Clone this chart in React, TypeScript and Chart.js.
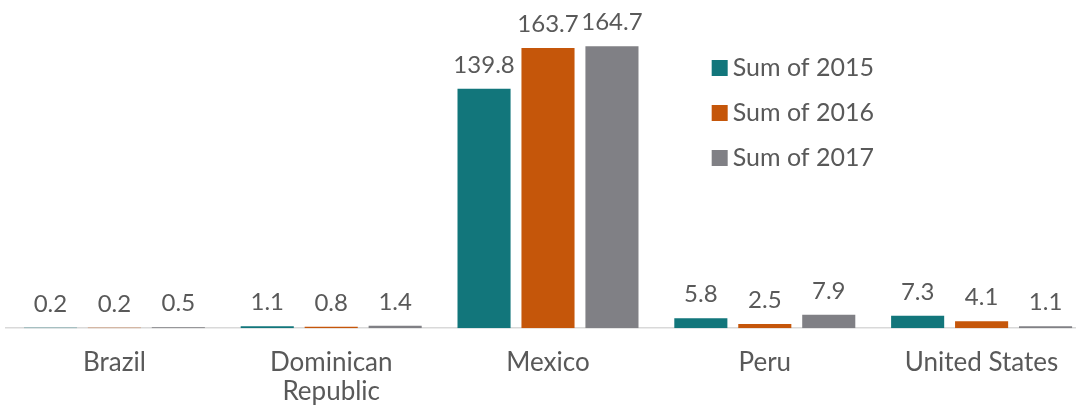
import React, { useEffect, useRef } from "react";
import { Chart, registerables } from "chart.js";

Chart.register(...registerables);

const categories: (string | string[])[] = ["Brazil", ["Dominican", "Republic"], "Mexico", "Peru", "United States"];
const seriesNames = ["Sum of 2015", "Sum of 2016", "Sum of 2017"];
const values2015 = [0.2, 1.1, 139.8, 5.8, 7.3];
const values2016 = [0.2, 0.8, 163.7, 2.5, 4.1];
const values2017 = [0.5, 1.4, 164.7, 7.9, 1.1];
const colors = ["#12767B", "#C5560A", "#808085"];

const FONT = "Lato, 'Noto Sans', sans-serif";
const TEXT = "#595959";

const labelPlugin = {
  id: "valueLabels",
  afterDatasetsDraw(chart: any) {
    const ctx = chart.ctx;
    ctx.save();
    ctx.font = `24px ${FONT}`;
    ctx.fillStyle = TEXT;
    ctx.textAlign = "center";
    ctx.textBaseline = "alphabetic";
    chart.data.datasets.forEach((ds: any, i: number) => {
      const meta = chart.getDatasetMeta(i);
      meta.data.forEach((bar: any, j: number) => {
        const v = ds.data[j];
        ctx.fillText(v.toFixed(1), bar.x, bar.y - 16);
      });
    });
    ctx.restore();
  },
};

const legendPlugin = {
  id: "insideLegend",
  afterDraw(chart: any) {
    const ctx = chart.ctx;
    const a = chart.chartArea;
    const x0 = a.left + (a.right - a.left) * 0.651;
    const y0 = a.top + 48;
    ctx.save();
    ctx.font = `25px ${FONT}`;
    ctx.textBaseline = "middle";
    ctx.textAlign = "left";
    seriesNames.forEach((name, i) => {
      const y = y0 + i * 45;
      ctx.fillStyle = colors[i];
      ctx.fillRect(x0, y - 8, 16, 16);
      ctx.fillStyle = TEXT;
      ctx.fillText(name, x0 + 21, y);
    });
    ctx.restore();
  },
};

export default function App() {
  const ref = useRef<HTMLCanvasElement>(null);
  useEffect(() => {
    if (!ref.current) return;
    const chart = new Chart(ref.current, {
      type: "bar",
      data: {
        labels: categories as any,
        datasets: [
          { label: seriesNames[0], data: values2015, backgroundColor: colors[0] },
          { label: seriesNames[1], data: values2016, backgroundColor: colors[1] },
          { label: seriesNames[2], data: values2017, backgroundColor: colors[2] },
        ],
      },
      options: {
        animation: false,
        responsive: true,
        maintainAspectRatio: false,
        layout: { padding: { top: 20, left: 6, right: 0, bottom: -19 } },
        datasets: { bar: { categoryPercentage: 0.885, barPercentage: 0.83 } } as any,
        plugins: {
          legend: { display: false },
          tooltip: { enabled: false },
        },
        scales: {
          x: {
            grid: { display: false, drawTicks: false },
            border: { display: true, color: "#D9D9D9", width: 1.5 },
            ticks: {
              color: TEXT,
              font: { family: FONT, size: 26, lineHeight: 1.15 },
              padding: 19,
              maxRotation: 0,
              autoSkip: false,
            },
          },
          y: {
            display: false,
            min: 0,
            max: 180,
          },
        },
      },
      plugins: [labelPlugin, legendPlugin],
    });
    return () => chart.destroy();
  }, []);
  return (
    <div style={{ position: "fixed", left: 0, top: 0, width: 1090, height: 407, background: "#fff" }}>
      <canvas ref={ref} />
    </div>
  );
}
